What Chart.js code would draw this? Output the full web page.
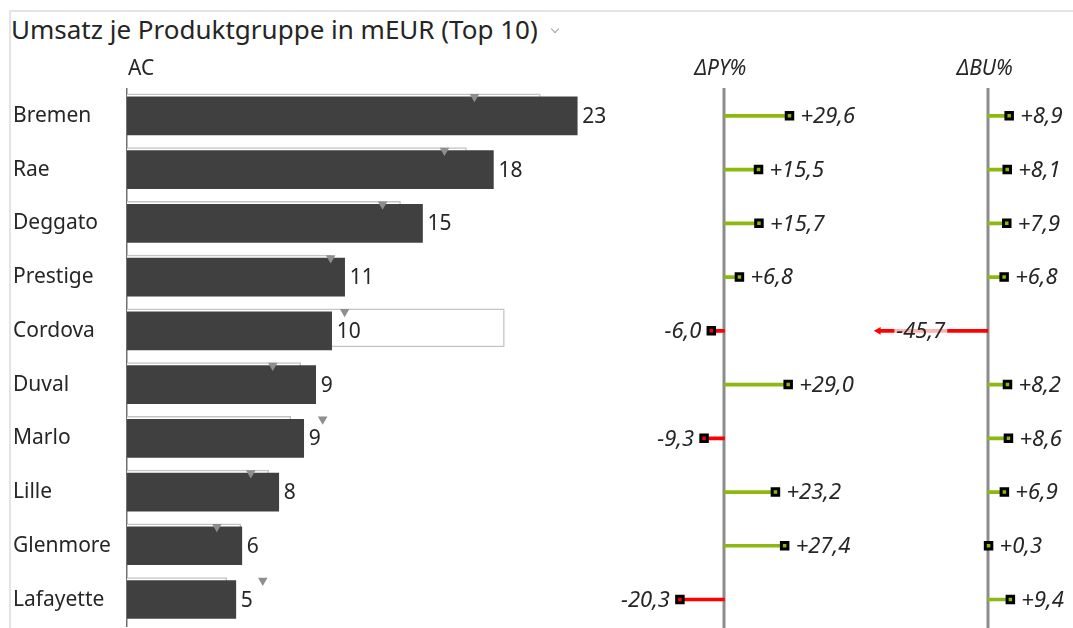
<!DOCTYPE html>
<html>
<head>
<meta charset="utf-8">
<title>Umsatz je Produktgruppe</title>
<script src="https://cdn.jsdelivr.net/npm/chart.js@4.4.1/dist/chart.umd.min.js"></script>
<style>
  html, body { margin: 0; padding: 0; background: #fff; }
  #wrap { position: relative; width: 1073px; height: 628px; overflow: hidden; font-family: "Noto Sans", "Open Sans", sans-serif; }
  #frame { position: absolute; left: 9px; top: 10px; width: 1080px; height: 640px; border-top: 2px solid #e4e4e4; border-left: 2px solid #e4e4e4; }
  #title { position: absolute; left: 11px; top: 11px; font-size: 26px; color: #252525; white-space: nowrap; }
  #title .chev { display: inline-block; width: 5px; height: 5px; margin: 0 0 7px 14px; border-right: 1.3px solid #a0a0a0; border-bottom: 1.3px solid #a0a0a0; transform: rotate(45deg); vertical-align: middle; }
  canvas { position: absolute; left: 0; top: 0; }
</style>
</head>
<body>
<div id="wrap">
  <div id="frame"></div>
  <div id="title">Umsatz je Produktgruppe in mEUR (Top 10)<span class="chev"></span></div>
  <!-- slightly larger than the page: the layout keeps a few px on the right and bottom -->
  <canvas id="chart" width="1079" height="634"></canvas>
</div>
<script>
const categories = ['Bremen', 'Rae', 'Deggato', 'Prestige', 'Cordova', 'Duval', 'Marlo', 'Lille', 'Glenmore', 'Lafayette'];
const actual = [22.55, 18.35, 14.8, 10.9, 10.25, 9.45, 8.85, 7.6, 5.75, 5.45];
const previousYear = [17.4, 15.9, 12.8, 10.2, 10.9, 7.3, 9.8, 6.2, 4.5, 6.8];
const budget = [20.7, 17.0, 13.7, 10.2, 18.9, 8.7, 8.2, 7.1, 5.7, 5.0];
const deltaPY = [29.6, 15.5, 15.7, 6.8, -6.0, 29.0, -9.3, 23.2, 27.4, -20.3];
const deltaBU = [8.9, 8.1, 7.9, 6.8, -45.7, 8.2, 8.6, 6.9, 0.3, 9.4];
const headers = ['AC', 'ΔPY%', 'ΔBU%'];

const FONT = '"Noto Sans", "Open Sans", sans-serif';
const GREEN = '#8cb80f';
const RED = '#ff0000';
const OUTLIER = 40; // deltas beyond this get an arrow instead of a square

// every x scale spans the whole plot width; min/max put each zero where its panel sits
const plotLeft = 127, plotRight = 1073;
function panel(zeroPx, pxPerUnit) {
  return {
    type: 'linear', display: false,
    min: (plotLeft - zeroPx) / pxPerUnit,
    max: (plotRight - zeroPx) / pxPerUnit
  };
}

const signColor = v => (v < 0 ? RED : GREEN);
const fmt = v => (v > 0 ? '+' : '') + v.toFixed(1).replace('.', ',');
const isOutlier = c => Math.abs(c.raw) > OUTLIER;

function stem(label, data, axis) {
  return {
    label, data, xAxisID: axis,
    backgroundColor: c => signColor(c.raw),
    barThickness: 3, grouped: false, order: 1
  };
}
function marker(label, data, axis) {
  return {
    type: 'line', label, data, xAxisID: axis, indexAxis: 'y', showLine: false, order: 0,
    pointStyle: c => (isOutlier(c) ? 'triangle' : 'rect'),
    rotation: c => (isOutlier(c) ? -90 : 0),
    pointRadius: c => (isOutlier(c) ? 4.5 : 4.6),
    pointBackgroundColor: c => signColor(c.raw),
    pointBorderColor: c => (isOutlier(c) ? RED : '#000'),
    pointBorderWidth: c => (isOutlier(c) ? 0 : 3)
  };
}

// lets a dataset sit a few pixels above the category centre
const shiftPlugin = {
  id: 'shift',
  beforeDatasetDraw(chart, args) {
    const dy = chart.data.datasets[args.index].shiftY;
    if (dy) { chart.ctx.save(); chart.ctx.translate(0, dy); }
  },
  afterDatasetDraw(chart, args) {
    if (chart.data.datasets[args.index].shiftY) chart.ctx.restore();
  }
};

const zeroLines = {
  id: 'zeroLines',
  beforeDatasetsDraw(chart) {
    const ctx = chart.ctx;
    ctx.save();
    ctx.strokeStyle = '#8c8c8c';
    ctx.lineWidth = 3;
    ['xPY', 'xBU'].forEach(id => {
      const x = Math.round(chart.scales[id].getPixelForValue(0));
      ctx.beginPath();
      ctx.moveTo(x, chart.chartArea.top - 1);
      ctx.lineTo(x, chart.height);
      ctx.stroke();
    });
    ctx.restore();
  }
};

const valueLabels = {
  id: 'valueLabels',
  afterDatasetsDraw(chart) {
    const ctx = chart.ctx;
    const y = chart.scales.y;
    const sAC = chart.scales.xAC, sPY = chart.scales.xPY, sBU = chart.scales.xBU;
    ctx.save();
    ctx.textBaseline = 'middle';
    ctx.fillStyle = '#262626';

    // column headers
    ctx.font = '21px ' + FONT;
    ctx.textAlign = 'left';
    ctx.fillText(headers[0], chart.chartArea.left + 1, 69);
    ctx.font = 'italic 21px ' + FONT;
    ctx.textAlign = 'center';
    ctx.fillText(headers[1], sPY.getPixelForValue(0) - 4, 69);
    ctx.fillText(headers[2], sBU.getPixelForValue(0) - 3, 69);

    // AC values
    ctx.font = '21px ' + FONT;
    ctx.textAlign = 'left';
    actual.forEach((v, i) => {
      ctx.fillText(Math.round(v), sAC.getPixelForValue(v) + 5, y.getPixelForValue(i) + 1);
    });

    // deltas
    ctx.font = 'italic 22px ' + FONT;
    const drawDelta = (scale, v, i) => {
      const x = scale.getPixelForValue(v);
      const yy = y.getPixelForValue(i) + 1;
      const text = fmt(v);
      if (Math.abs(v) > OUTLIER) {
        const w = ctx.measureText(text).width;
        const left = x + 18;
        ctx.strokeStyle = RED;
        ctx.lineWidth = 1.5;
        ctx.setLineDash([3, 3]);
        ctx.beginPath();
        ctx.moveTo(x + 6, yy - 1);
        ctx.lineTo(left, yy - 1);
        ctx.stroke();
        ctx.setLineDash([]);
        ctx.fillStyle = 'rgba(255,255,255,0.7)';
        ctx.fillRect(left - 2, yy - 5, w + 4, 8);
        ctx.fillStyle = '#262626';
        ctx.textAlign = 'left';
        ctx.fillText(text, left, yy);
      } else if (v >= 0) {
        ctx.textAlign = 'left';
        ctx.fillText(text, x + 11, yy);
      } else {
        ctx.textAlign = 'right';
        ctx.fillText(text, x - 10, yy);
      }
    };
    deltaPY.forEach((v, i) => drawDelta(sPY, v, i));
    deltaBU.forEach((v, i) => drawDelta(sBU, v, i));
    ctx.restore();
  }
};

new Chart(document.getElementById('chart'), {
  type: 'bar',
  data: {
    labels: categories,
    datasets: [
      { label: 'PY', type: 'line', data: previousYear, xAxisID: 'xAC', indexAxis: 'y', showLine: false,
        pointStyle: 'triangle', rotation: 180, pointRadius: 5.5, pointBorderWidth: 0,
        pointBackgroundColor: '#8e8e8e', order: 0, shiftY: -19 },
      { label: 'AC', data: actual, xAxisID: 'xAC', backgroundColor: '#404040',
        barThickness: 38, grouped: false, order: 1 },
      { label: 'BU', data: budget, xAxisID: 'xAC', backgroundColor: '#ffffff',
        borderColor: '#c4c4c4', borderWidth: 1.5, barThickness: 38, grouped: false, order: 2, shiftY: -3 },
      stem('ΔPY%', deltaPY, 'xPY'),
      marker('ΔPY% end', deltaPY, 'xPY'),
      stem('ΔBU%', deltaBU, 'xBU'),
      marker('ΔBU% end', deltaBU, 'xBU')
    ]
  },
  options: {
    indexAxis: 'y',
    responsive: false,
    animation: false,
    layout: { padding: { left: 13, top: 89, right: 0, bottom: 1 } },
    plugins: { legend: { display: false }, tooltip: { enabled: false } },
    scales: {
      y: {
        type: 'category',
        grid: { display: false },
        border: { display: true, color: '#707070', width: 1.5 },
        ticks: { crossAlign: 'far', padding: 0, color: '#262626', font: { family: FONT, size: 21 } },
        afterFit: s => { s.width = 114; s.paddingTop = 0; s.paddingBottom = 0; }
      },
      xAC: panel(127, 20),
      xPY: panel(725.5, 2.2),
      xBU: panel(989.3, 2.4)
    }
  },
  plugins: [shiftPlugin, zeroLines, valueLabels]
});
</script>
</body>
</html>
